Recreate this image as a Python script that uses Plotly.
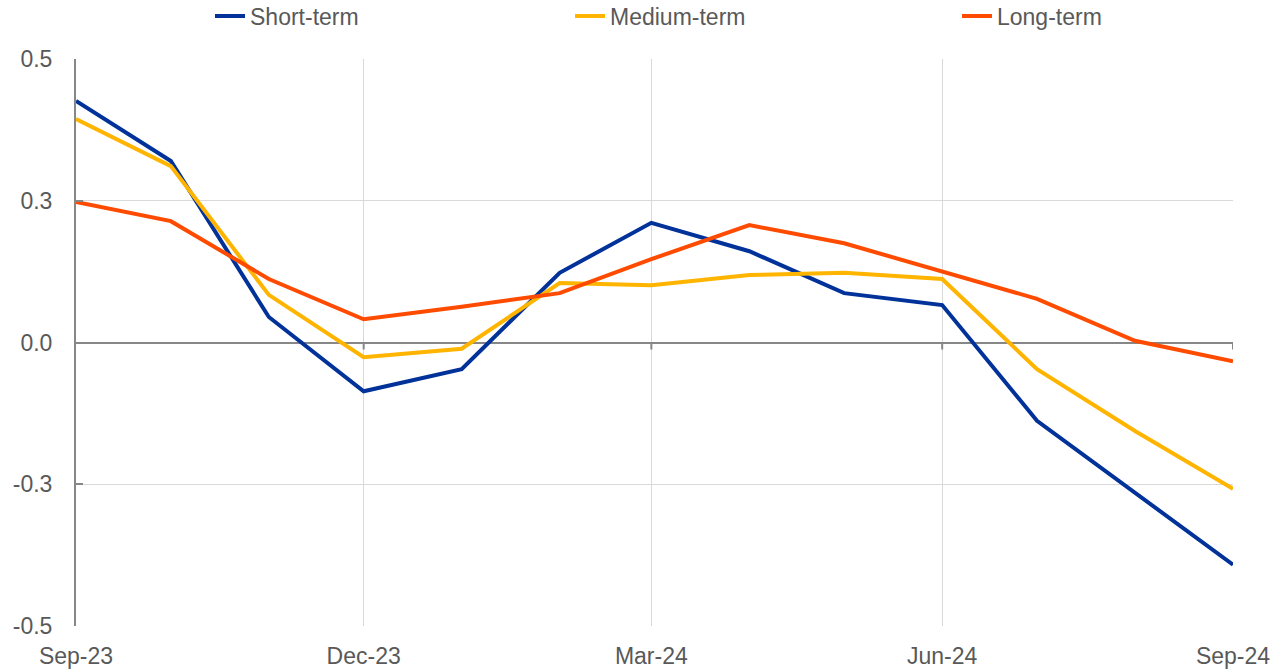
import plotly.graph_objects as go
import pandas as pd

months = pd.date_range("2023-09-01", "2024-09-01", freq="MS")
short_term = [0.426, 0.320, 0.045, -0.086, -0.047, 0.123, 0.211, 0.161, 0.087, 0.066, -0.138, -0.264, -0.392]
medium_term = [0.394, 0.311, 0.084, -0.026, -0.011, 0.105, 0.101, 0.119, 0.123, 0.112, -0.047, -0.156, -0.258]
long_term = [0.248, 0.214, 0.112, 0.041, 0.063, 0.087, 0.147, 0.207, 0.175, 0.126, 0.077, 0.003, -0.033]
series_names = ["Short-term", "Medium-term", "Long-term"]
colors = ["#003299", "#FFB400", "#FF4B00"]
ytick_vals = [-0.5, -0.25, 0.0, 0.25, 0.5]
ytick_text = ["-0.5", "-0.3", "0.0", "0.3", "0.5"]
xtick_dates = pd.date_range("2023-09-01", "2024-09-01", freq="3MS")

fig = go.Figure()
legends = ["legend", "legend2", "legend3"]
for name, vals, col, lg in zip(series_names, [short_term, medium_term, long_term], colors, legends):
    fig.add_trace(go.Scatter(x=months, y=vals, mode="lines", name=name,
                             line=dict(color=col, width=4), legend=lg))

font = dict(family="Liberation Sans, Arial, sans-serif", size=23, color="#595959")
W, H = 1276, 670
L, R, T, B = 76, 43, 59, 44

def cx(page_x):
    return page_x / W

leg_common = dict(orientation="h", yref="container", xref="container", yanchor="middle",
                  y=1.0 - 16 / H, xanchor="left",
                  font=font, bgcolor="rgba(0,0,0,0)", borderwidth=0, itemwidth=30, tracegroupgap=0)
fig.update_layout(
    width=W, height=H,
    margin=dict(l=L, r=R, t=T, b=B, autoexpand=False),
    plot_bgcolor="white", paper_bgcolor="white",
    font=font,
    showlegend=True,
    legend=dict(x=cx(210), **leg_common),
    legend2=dict(x=cx(570), **leg_common),
    legend3=dict(x=cx(957), **leg_common),
    xaxis=dict(range=[months[0], months[-1]], tickvals=xtick_dates, tickformat="%b-%y",
               showgrid=True, gridcolor="#d9d9d9", gridwidth=1, ticks="", showline=False,
               zeroline=False, tickfont=font, ticklabelstandoff=14),
    yaxis=dict(range=[-0.5, 0.5], tickvals=ytick_vals, ticktext=ytick_text,
               showgrid=True, gridcolor="#d9d9d9", gridwidth=1,
               zeroline=True, zerolinecolor="#878787", zerolinewidth=2,
               showline=True, linecolor="#878787", linewidth=2,
               ticks="inside", ticklen=7, tickcolor="#878787", tickwidth=2,
               tickfont=font, ticklabelstandoff=17),
)
for d in xtick_dates[1:]:
    fig.add_shape(type="line", xref="x", yref="y", x0=d, x1=d, ysizemode="pixel",
                  yanchor=0, y0=0, y1=-7, line=dict(color="#878787", width=2))

fig.write_html("out.html", config={"displayModeBar": False},
               post_script="document.body.style.margin='0';document.body.style.overflow='hidden';")
